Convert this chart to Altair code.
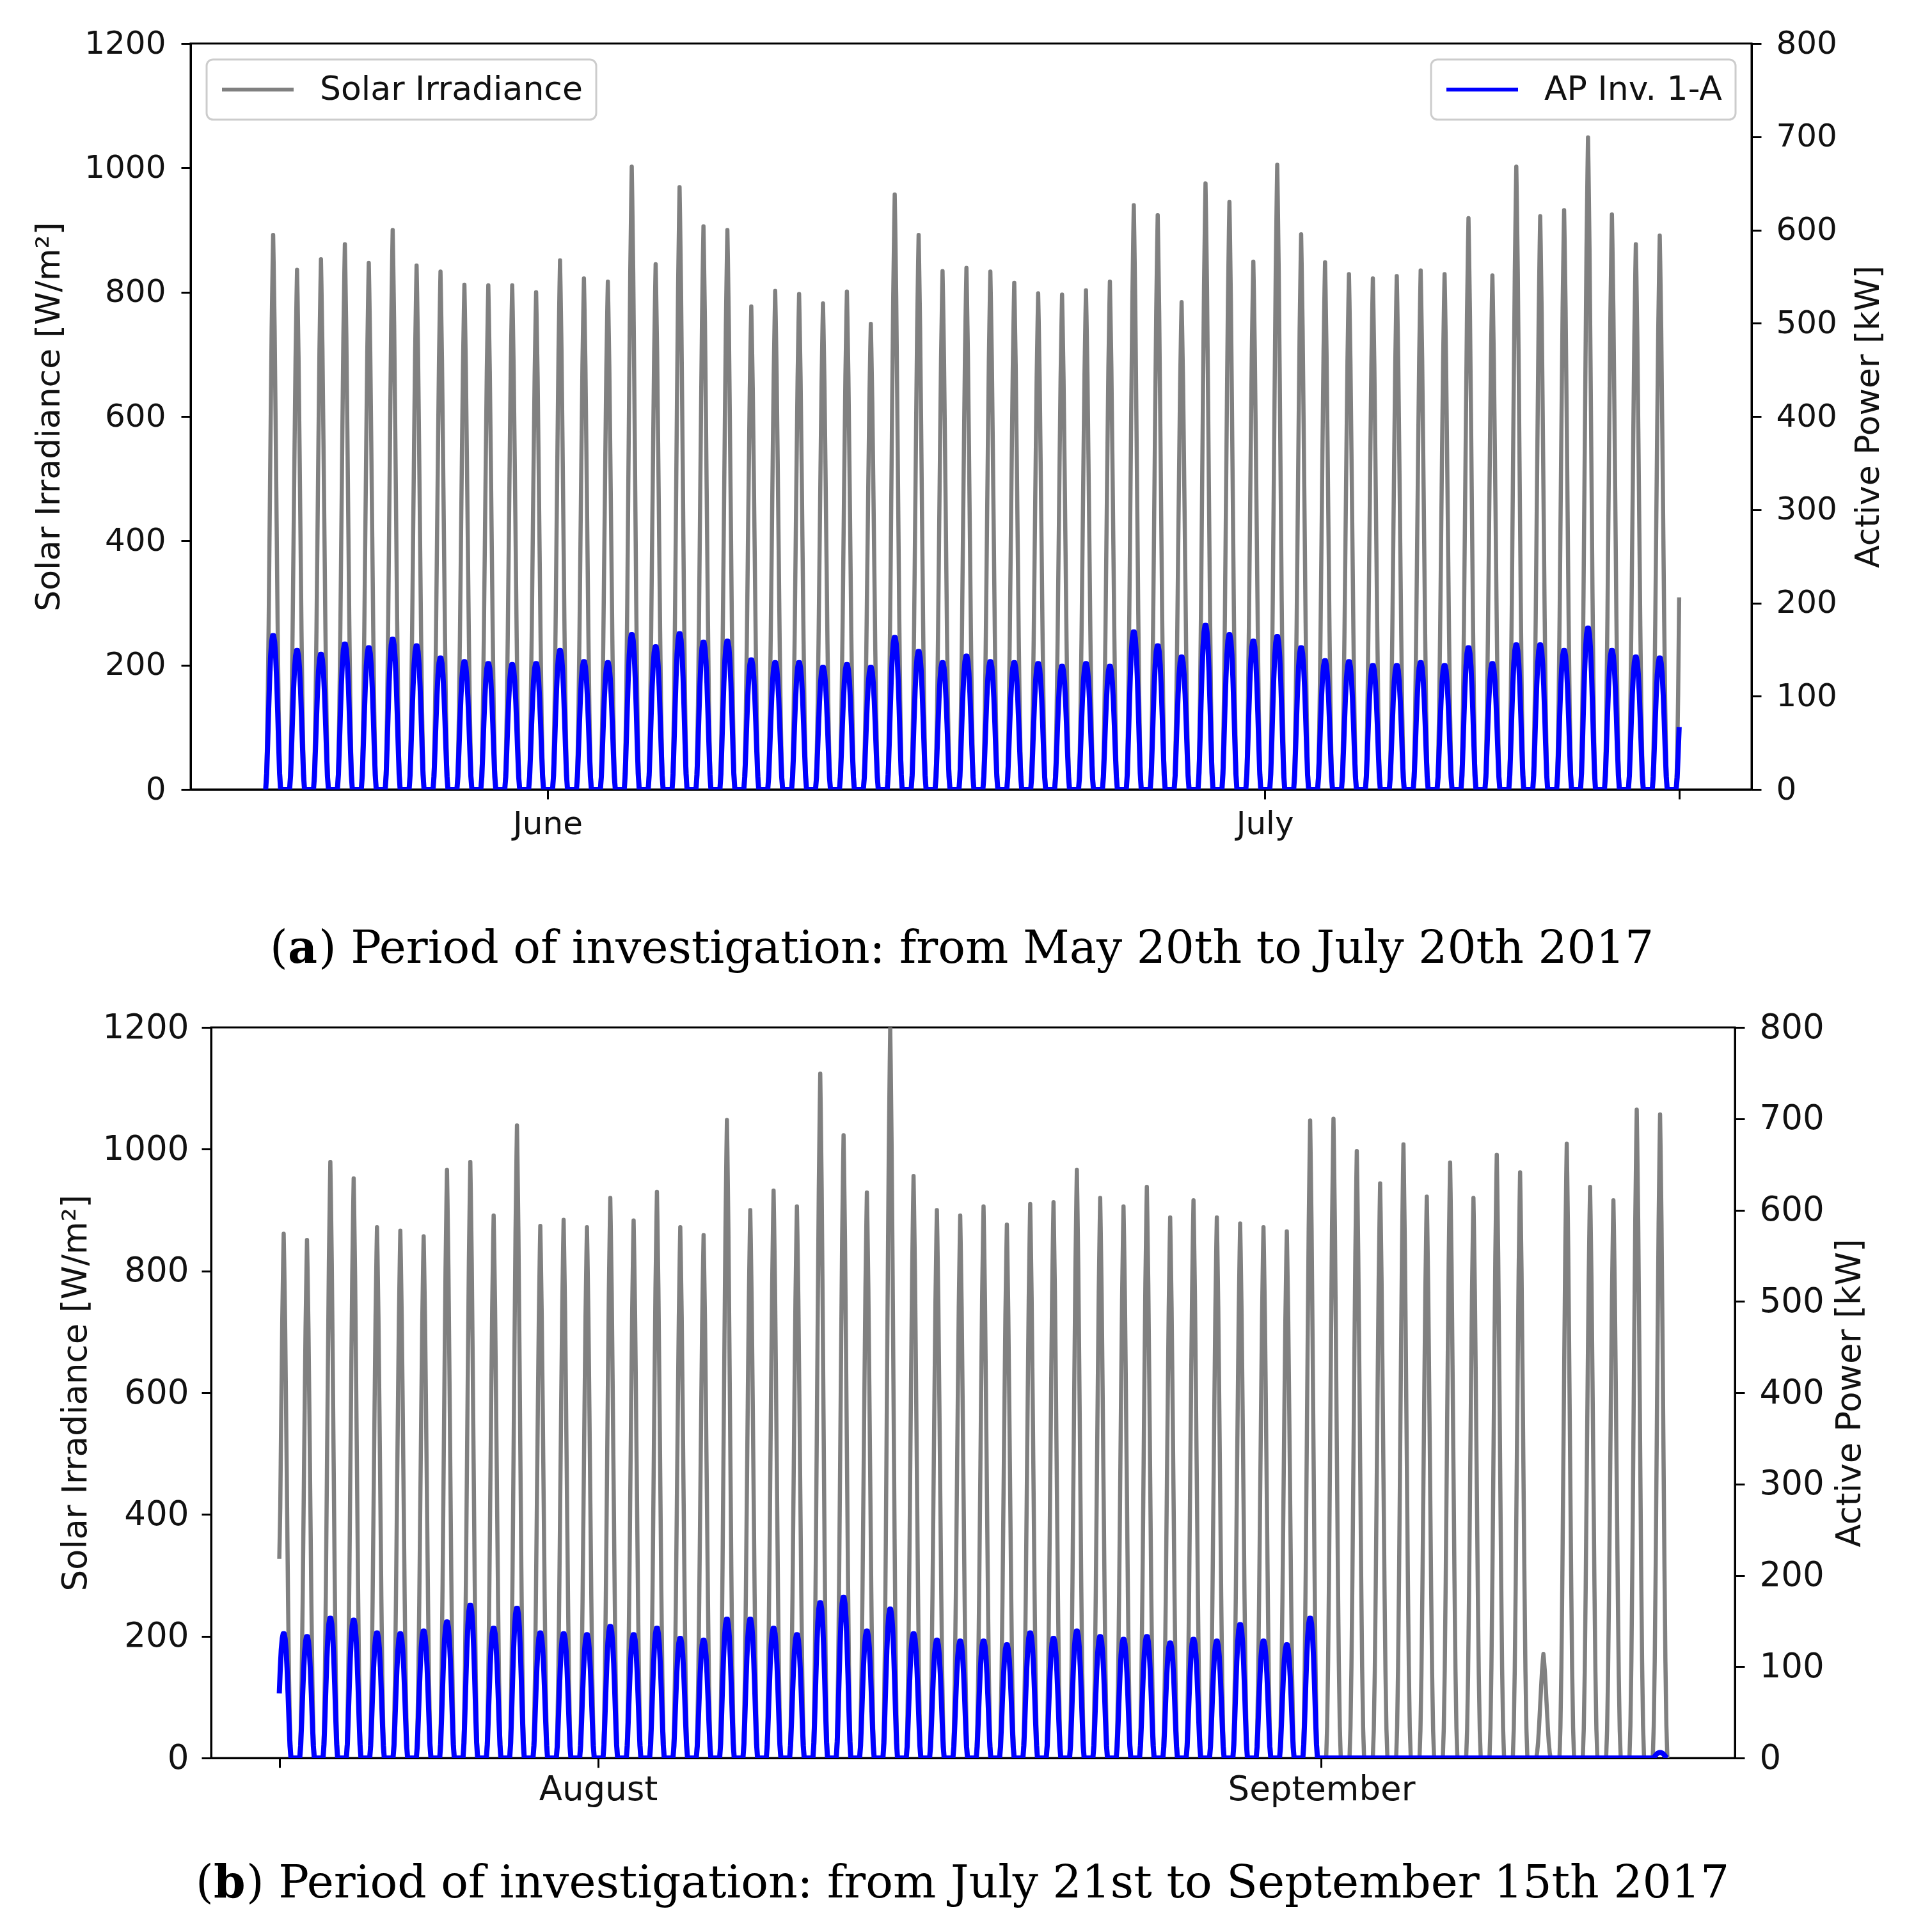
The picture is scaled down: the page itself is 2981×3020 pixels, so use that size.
import altair as alt
import pandas as pd

# Typical clear-sky daily shapes: hour of day -> fraction of that day's peak
PROFILE_HOURS = [5, 6, 7, 8, 9, 10, 11, 12, 12.5, 13, 14, 15, 16, 17, 18, 19, 20]
IRR_FRAC = [0.0, 0.05, 0.15, 0.3, 0.48, 0.66, 0.83, 0.95, 1.0, 0.95, 0.83, 0.66, 0.48, 0.3, 0.15, 0.05, 0.0]
AP_FRAC = [0.0, 0.1, 0.3, 0.52, 0.72, 0.87, 0.96, 1.0, 1.0, 1.0, 0.96, 0.87, 0.72, 0.52, 0.3, 0.1, 0.0]

# ---- Panel (a): daily peaks from 2017-05-20 ----
A_FIRST_DAY = "2017-05-20"
A_IRR_PEAK = [892, 836, 853, 877, 847, 900, 843, 833, 812, 811,
              811, 800, 851, 822, 817, 1002, 845, 969, 906, 900,
              777, 802, 797, 782, 801, 749, 957, 892, 834, 839,
              833, 815, 798, 796, 803, 817, 940, 924, 784, 975,
              945, 849, 1005, 893, 848, 829, 822, 826, 835, 829,
              919, 827, 1002, 922, 932, 1049, 925, 877, 891]
A_AP_PEAK = [165, 149, 145, 156, 152, 161, 154, 141, 137, 135,
             134, 135, 149, 137, 136, 166, 153, 167, 158, 159,
             139, 136, 136, 131, 134, 131, 163, 148, 136, 143,
             137, 136, 135, 132, 135, 132, 169, 154, 142, 176,
             166, 159, 164, 152, 138, 137, 133, 133, 136, 133,
             152, 135, 155, 155, 149, 173, 149, 142, 141]
A_LAST_HOUR = 8      # record stops in the morning of the next day
A_LAST_IRR = 309
A_LAST_AP = 67

# ---- Panel (b): daily peaks from 2017-07-18 (record starts 08:00) ----
B_FIRST_DAY = "2017-07-18"
B_FIRST_HOUR = 8
B_FIRST_IRR = 327    # first reading of the record
B_IRR_PEAK = [861, 851, 979, 952, 872, 866, 857, 966, 979, 891,
              1039, 874, 884, 872, 920, 883, 930, 872, 859, 1048,
              900, 932, 906, 1124, 1023, 929, 1200, 956, 900, 891,
              906, 876, 910, 913, 966, 920, 906, 938, 888, 916,
              888, 878, 872, 865, 1047, 1050, 997, 944, 1008, 922,
              978, 920, 991, 962, 171, 1009, 938, 916, 1065, 1057]
B_AP_PEAK = [136, 133, 153, 151, 137, 136, 139, 149, 167, 142,
             164, 137, 136, 135, 144, 135, 142, 131, 129, 152,
             152, 142, 135, 170, 176, 139, 163, 136, 129, 128,
             128, 124, 137, 131, 139, 133, 130, 133, 126, 130,
             128, 146, 128, 124, 153, 0, 0, 0, 0, 0,
             0, 0, 0, 0, 0, 0, 0, 0, 0, 6]

LEFT_TICKS = [0, 200, 400, 600, 800, 1000, 1200]
RIGHT_TICKS = [0, 100, 200, 300, 400, 500, 600, 700, 800]
CAPTION_A = ["(", "a", ") Period of investigation: from May 20th to July 20th 2017"]
CAPTION_B = ["(", "b", ") Period of investigation: from July 21st to September 15th 2017"]

GRAY = "#808080"
BLUE = "#0000ff"
SANS = "DejaVu Sans"
SERIF = "DejaVu Serif"


def iso(ts):
    return ts.strftime("%Y-%m-%dT%H:%M:%SZ")


def day_points(day, irr_peak, ap_peak, h_from=0.0, h_to=24.0):
    out = []
    for h, fi, fa in zip(PROFILE_HOURS, IRR_FRAC, AP_FRAC):
        if h_from <= h <= h_to:
            out.append({"t": iso(day + pd.Timedelta(minutes=round(h * 60))),
                        "irr": irr_peak * fi, "ap": ap_peak * fa})
    return out


rows_a = []
d0 = pd.Timestamp(A_FIRST_DAY)
for i, (g, p) in enumerate(zip(A_IRR_PEAK, A_AP_PEAK)):
    rows_a += day_points(d0 + pd.Timedelta(days=i), g, p)
k = PROFILE_HOURS.index(A_LAST_HOUR)
rows_a += day_points(d0 + pd.Timedelta(days=len(A_IRR_PEAK)),
                     A_LAST_IRR / IRR_FRAC[k], A_LAST_AP / AP_FRAC[k], h_to=A_LAST_HOUR)
df_a = pd.DataFrame(rows_a)

rows_b = []
d1 = pd.Timestamp(B_FIRST_DAY)
for i, (g, p) in enumerate(zip(B_IRR_PEAK, B_AP_PEAK)):
    rows_b += day_points(d1 + pd.Timedelta(days=i), g, p,
                         h_from=B_FIRST_HOUR if i == 0 else 0.0)
rows_b[0]["irr"] = B_FIRST_IRR
df_b = pd.DataFrame(rows_b)


def dt(mo, d, h=0, mi=0):
    return alt.DateTime(year=2017, month=mo, date=d, hours=h, minutes=mi, utc=True)


LABEL_EXPR = "utcdate(datum.value) == 1 && utchours(datum.value) == 0 ? utcFormat(datum.value, '%B') : ''"


def caption_layers(parts, xs, y, fs):
    layers = []
    for txt, x, bold in zip(parts, xs, [False, True, False]):
        layers.append(
            alt.Chart(pd.DataFrame({"k": [0]}))
            .mark_text(text=txt, font=SERIF, fontSize=fs,
                       fontWeight="bold" if bold else "normal",
                       align="left", baseline="middle", color="#000000")
            .encode(x=alt.value(x), y=alt.value(y))
        )
    return layers


def legend(orient):
    return alt.Legend(title=None, orient=orient, offset=25, symbolType="stroke",
                      symbolSize=12544, symbolStrokeWidth=6, labelFontSize=52,
                      labelFont=SANS, labelColor="#111111", labelOffset=38,
                      labelLimit=1000, padding=21, clipHeight=52, cornerRadius=10,
                      strokeColor="#cccccc", fillColor="#ffffff")


def panel(df, xdom, xticks, w, h, fs, tfs, ltx, rtx, lpad_l, lpad_r, xpad,
          with_legend, cap_parts, cap_xs, cap_y):
    x = alt.X("t:T", scale=alt.Scale(type="utc", domain=xdom),
              axis=alt.Axis(values=xticks, labelExpr=LABEL_EXPR, title=None,
                            labelFontSize=fs, labelPadding=xpad, tickSize=15,
                            labelOverlap=False, labelLimit=1000))
    y_left = alt.Y("irr:Q", scale=alt.Scale(domain=[0, 1200], nice=False),
                   axis=alt.Axis(orient="left", values=LEFT_TICKS, format="d",
                                 title="Solar Irradiance [W/m²]", titleX=ltx,
                                 titleBaseline="middle", titleFontSize=tfs,
                                 labelFontSize=fs, labelPadding=lpad_l, tickSize=15))
    y_right = alt.Y("ap:Q", scale=alt.Scale(domain=[0, 800], nice=False),
                    axis=alt.Axis(orient="right", values=RIGHT_TICKS, format="d",
                                  title="Active Power [kW]", titleX=rtx, titleAngle=270,
                                  titleBaseline="middle", titleFontSize=tfs,
                                  labelFontSize=fs, labelPadding=lpad_r, tickSize=15))
    g = alt.Chart(df).mark_line(strokeWidth=6.5, strokeJoin="round", clip=True)
    b = alt.Chart(df).mark_line(strokeWidth=8, strokeJoin="round", clip=True)
    if with_legend:
        g = g.transform_calculate(s="'Solar Irradiance'").encode(
            x=x, y=y_left,
            color=alt.Color("s:N", scale=alt.Scale(domain=["Solar Irradiance"], range=[GRAY]),
                            legend=legend("top-left")))
        b = b.transform_calculate(s2="'AP Inv. 1-A'").encode(
            x=x, y=y_right,
            color=alt.Color("s2:N", scale=alt.Scale(domain=["AP Inv. 1-A"], range=[BLUE]),
                            legend=legend("top-right")))
    else:
        g = g.encode(x=x, y=y_left, color=alt.value(GRAY))
        b = b.encode(x=x, y=y_right, color=alt.value(BLUE))
    layers = [g, b] + caption_layers(cap_parts, cap_xs, cap_y, 71)
    return (alt.layer(*layers)
            .resolve_scale(y="independent", color="independent")
            .properties(width=w, height=h,
                        view=alt.ViewBackground(stroke="#000000", strokeWidth=3)))


def spacer(w):
    return (alt.Chart(pd.DataFrame({"v": [0]}))
            .mark_point(size=0, opacity=0)
            .encode(x=alt.value(1), y=alt.value(1))
            .properties(width=w, height=10))


panel_a = panel(df_a,
                [dt(5, 17, 1, 40), dt(7, 21, 8, 40)],
                [dt(6, 1), dt(7, 1), dt(7, 18, A_LAST_HOUR)],
                2440, 1166, 50, 52, -222, 182, 24, 23, 14,
                True, CAPTION_A, [124, 152, 200], 1416)

panel_b = panel(df_b,
                [dt(7, 15, 9, 50), dt(9, 18, 17, 30)],
                [dt(7, 18, B_FIRST_HOUR), dt(8, 1), dt(9, 1)],
                2382, 1142, 53, 53, -212, 179, 20, 23, 8,
                False, CAPTION_B, [-24, 4, 55], 1339)

chart = (alt.vconcat(alt.hconcat(spacer(10), panel_a, spacing=0),
                     alt.hconcat(spacer(52), panel_b, spacing=0),
                     spacing=57)
         .properties(padding={"left": 30, "top": 33, "right": 5, "bottom": 5},
                     background="#ffffff")
         .configure_view(strokeWidth=0)
         .configure_axis(domainColor="#000000", domainWidth=3, tickColor="#000000",
                         tickWidth=3, labelColor="#111111", titleColor="#111111",
                         labelFont=SANS, titleFont=SANS, titleFontWeight="normal",
                         grid=False)
         .configure_legend(strokeWidth=3))

chart.save("out.html", embed_options={"renderer": "svg", "actions": False})
